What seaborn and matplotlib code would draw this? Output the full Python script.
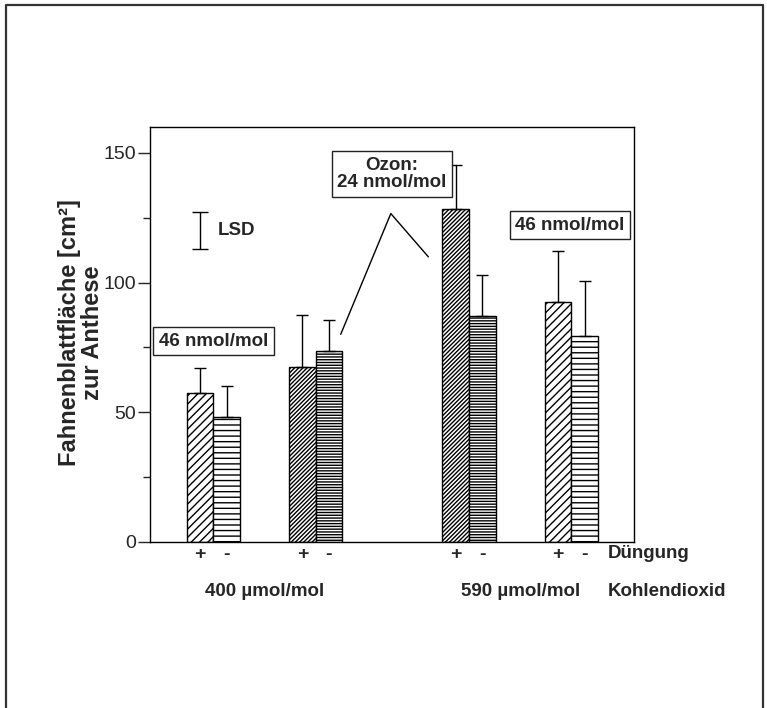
import numpy as np
import pandas as pd
import seaborn as sns
import matplotlib.pyplot as plt
from matplotlib.lines import Line2D
from matplotlib.transforms import blended_transform_factory

# --- data -------------------------------------------------------------
group_pos = [0.0, 1.0, 2.5, 3.5]          # 400/46, 400/24, 590/24, 590/46
ozone = [46, 24, 24, 46]                  # nmol/mol per group
duengung = ["+", "-"]
mean_plus = [57.5, 67.5, 128.5, 92.5]
mean_minus = [48.0, 73.5, 87.0, 79.5]
err_plus = [9.5, 20.0, 17.0, 19.5]
err_minus = [12.0, 12.0, 16.0, 21.0]
lsd_center, lsd_value = 120.0, 14.4
co2_labels = ["400 µmol/mol", "590 µmol/mol"]

df = pd.DataFrame({
    "pos": group_pos * 2,
    "dung": ["+"] * 4 + ["-"] * 4,
    "value": mean_plus + mean_minus,
})

# --- style -------------------------------------------------------------
sns.set_style("white")
plt.rcParams["font.family"] = ["Liberation Sans", "DejaVu Sans"]
plt.rcParams["hatch.linewidth"] = 1.0
plt.rcParams["hatch.color"] = "black"

W, H = 767, 708
fig = plt.figure(figsize=(W / 100, H / 100), dpi=100)
fig.patch.set_facecolor("white")
ax = fig.add_axes([150 / W, 1 - 541.7 / H, (634 - 150) / W, (541.7 - 127) / H])

sns.barplot(data=df, x="pos", y="value", hue="dung", hue_order=duengung,
            native_scale=True, width=0.52, gap=0, dodge=True,
            palette=["white", "white"], edgecolor="black", linewidth=1,
            errorbar=None, legend=False, ax=ax)

# hatch patterns: sparse for 46 nmol/mol, dense for 24 nmol/mol
hatch_plus = {46: "////", 24: "////////"}
hatch_minus = {46: "---", 24: "------"}
gp = np.array(group_pos)
centers, heights, errs, labels = [], [], [], []
for bar in ax.patches:
    cx = bar.get_x() + bar.get_width() / 2
    gi = int(np.argmin(np.abs(gp - cx)))
    if cx < gp[gi]:
        bar.set_hatch(hatch_plus[ozone[gi]])
        heights.append(mean_plus[gi])
        errs.append(err_plus[gi])
        labels.append("+")
    else:
        bar.set_hatch(hatch_minus[ozone[gi]])
        heights.append(mean_minus[gi])
        errs.append(err_minus[gi])
        labels.append("-")
    centers.append(cx)

centers = np.array(centers)
heights = np.array(heights)
errs = np.array(errs)
ax.errorbar(centers, heights, yerr=[np.zeros_like(errs), errs], fmt="none",
            ecolor="black", elinewidth=1, capsize=4, capthick=1, zorder=3)

# LSD marker
ax.errorbar([-0.13], [lsd_center], yerr=[lsd_value / 2], fmt="none",
            ecolor="black", elinewidth=1, capsize=5.5, capthick=1)
ax.text(0.046, lsd_center, "LSD", fontsize=13.5, fontweight="bold",
        ha="left", va="center")

# ozone annotations
box = dict(boxstyle="square,pad=0.3", facecolor="white", edgecolor="#222222", lw=1)
ax.text(0.0, 77.4, "46 nmol/mol", fontsize=13.5, fontweight="bold",
        ha="center", va="center", bbox=box)
ax.text(3.487, 122.1, "46 nmol/mol", fontsize=13.5, fontweight="bold",
        ha="center", va="center", bbox=box)
ax.text(1.747, 141.9, "Ozon:\n24 nmol/mol", fontsize=13.5, fontweight="bold",
        ha="center", va="center", multialignment="center", linespacing=1.05,
        bbox=box)
ax.plot([1.245, 1.735, 2.102], [80.0, 126.6, 109.9], color="black", lw=1)

# axes
ax.set_xlim(-0.619, 4.112)
ax.set_ylim(0, 160)
order = np.argsort(centers)
ax.set_xticks(centers[order])
ax.set_xticklabels([labels[i] for i in order], fontsize=14, fontweight="bold")
ax.tick_params(axis="x", length=0, pad=3)
ax.set_yticks([0, 50, 100, 150])
ax.set_yticks([25, 75, 125], minor=True)
ax.tick_params(axis="y", which="major", direction="out", length=8.5, width=1,
               labelsize=14, pad=1.5, left=True)
ax.tick_params(axis="y", which="minor", direction="out", length=5, width=1,
               left=True)
ax.set_xlabel("")
ax.set_ylabel("")
for s in ax.spines.values():
    s.set_linewidth(1)
    s.set_color("black")

# axis captions
fig.text(81 / W, 1 - 333 / H, "Fahnenblattfläche [cm²]\nzur Anthese",
         rotation=90, ha="center", va="center", multialignment="center",
         fontsize=17, fontweight="bold", linespacing=1.0)
tr = blended_transform_factory(ax.transData, fig.transFigure)
ax.text(3.86, 1 - 553 / H, "Düngung", transform=tr, fontsize=13.5,
        fontweight="bold", ha="left", va="center")
ax.text(3.86, 1 - 592 / H, "Kohlendioxid", transform=tr, fontsize=13.5,
        fontweight="bold", ha="left", va="center")
ax.text(0.5, 1 - 592 / H, co2_labels[0], transform=tr, fontsize=13.5,
        fontweight="bold", ha="center", va="center")
ax.text(3.0, 1 - 592 / H, co2_labels[1], transform=tr, fontsize=13.5,
        fontweight="bold", ha="center", va="center")

# page frame
fig.add_artist(Line2D([6 / W, 6 / W, 763 / W, 763 / W],
                      [0, 1 - 5 / H, 1 - 5 / H, 0],
                      transform=fig.transFigure, color="#333333", lw=1.6))

fig.savefig("out.png", dpi=100, facecolor="white")
